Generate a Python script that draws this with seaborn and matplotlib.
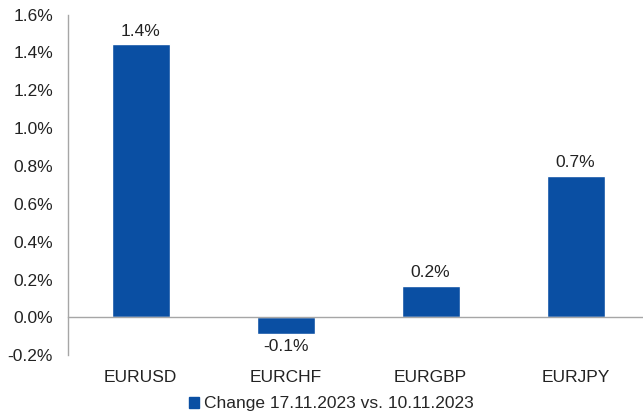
import matplotlib
matplotlib.use("Agg")
import matplotlib.pyplot as plt
import seaborn as sns
import pandas as pd
from matplotlib.patches import Patch
from matplotlib.ticker import FuncFormatter, FixedLocator

categories = ["EURUSD", "EURCHF", "EURGBP", "EURJPY"]
values = [1.443, -0.086, 0.167, 0.748]
series_name = "Change 17.11.2023 vs. 10.11.2023"
yticks = [-0.2, 0.0, 0.2, 0.4, 0.6, 0.8, 1.0, 1.2, 1.4, 1.6]

sns.set_style("white")
plt.rcParams["font.family"] = ["Liberation Sans", "DejaVu Sans"]

df = pd.DataFrame({"pair": categories, "change": values})
color = "#0a4fa3"
axis_gray = "#a6a6a6"
fs = 12.5

fig = plt.figure(figsize=(6.43, 4.16), dpi=100)
ax = fig.add_axes([0.106, 0.146, 0.902, 0.819])
sns.barplot(data=df, x="pair", y="change", color=color, width=0.4, ax=ax,
            saturation=1)

ax.set_ylim(-0.2, 1.6)
ax.set_xlim(-0.5, 3.5)
ax.set_yticks(yticks)
ax.yaxis.set_major_formatter(FuncFormatter(lambda v, p: f"{v:.1f}%"))
ax.set_xlabel("")
ax.set_ylabel("")

for s in ["top", "right"]:
    ax.spines[s].set_visible(False)
ax.spines["left"].set_color(axis_gray)
ax.spines["left"].set_linewidth(1)
ax.spines["bottom"].set_position(("data", 0))
ax.spines["bottom"].set_color(axis_gray)
ax.spines["bottom"].set_linewidth(1)

ax.tick_params(axis="y", direction="out", length=5, color=axis_gray,
               labelsize=fs, labelcolor="#222222", pad=6)
# category boundaries as major ticks, category labels as minor ticks
ax.xaxis.set_major_locator(FixedLocator([0.5, 1.5, 2.5]))
ax.xaxis.set_major_formatter(FuncFormatter(lambda v, p: ""))
ax.xaxis.set_minor_locator(FixedLocator(list(range(len(categories)))))
ax.set_xticklabels(categories, minor=True)
ax.tick_params(axis="x", which="major", direction="out", length=5,
               color=axis_gray)
ax.tick_params(axis="x", which="minor", length=0, labelsize=fs,
               labelcolor="#222222", pad=38)

for c in ax.containers:
    ax.bar_label(c, labels=[f"{v:.1f}%" for v in values], padding=4,
                 fontsize=fs, color="#222222")

handle = Patch(facecolor=color, edgecolor=color)
fig.legend([handle], [series_name], loc="center", bbox_to_anchor=(0.515, 0.029),
           frameon=False, fontsize=fs, handlelength=0.6, handleheight=0.6,
           handletextpad=0.25, borderpad=0)

fig.savefig("out.png", dpi=100)
